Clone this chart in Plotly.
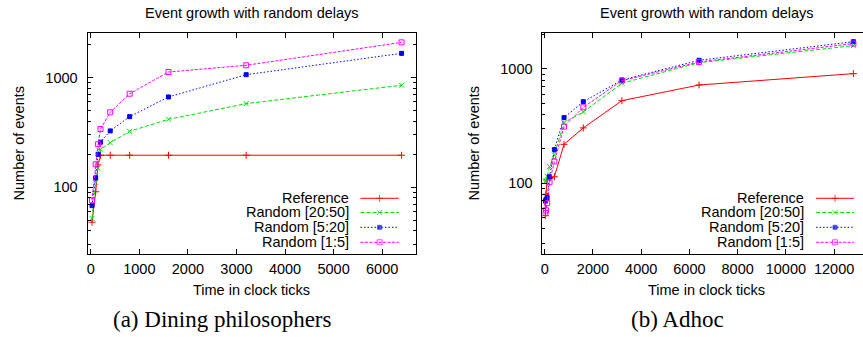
import plotly.graph_objects as go

W, H = 863, 337

# ---------------- data ----------------
series_names = ["Reference", "Random [20:50]", "Random [5:20]", "Random [1:5]"]

dining_time = [25, 100, 150, 200, 400, 800, 1600, 3200, 6400]
dining_reference = [48, 91, 160, 196, 196, 196, 196, 196, 196]
dining_r20_50 = [52, 111, 150, 222, 255, 324, 417, 580, 853]
dining_r5_20 = [68, 122, 200, 258, 327, 441, 667, 1065, 1667]
dining_r1_5 = [76, 162, 247, 340, 483, 714, 1127, 1298, 2100]

adhoc_time = [25, 50, 100, 200, 400, 800, 1600, 3200, 6400, 12800]
adhoc_reference = [52, 80, 107, 110, 114, 219, 305, 528, 724, 910]
adhoc_r20_50 = [103, 105, 115, 140, 177, 339, 421, 750, 1135, 1599]
adhoc_r5_20 = [70, 72, 75, 114, 197, 375, 517, 801, 1191, 1733]
adhoc_r1_5 = [55, 58, 67, 102, 155, 313, 462, 791, 1151, 1667]

left_xticks = [0, 1000, 2000, 3000, 4000, 5000, 6000]
right_xticks = [0, 2000, 4000, 6000, 8000, 10000, 12000]
y_ticks = [100, 1000]
y_minor = [30, 40, 50, 60, 70, 80, 90, 200, 300, 400, 500, 600, 700, 800, 900, 2000]

# ---------------- styles ----------------
SANS = "Liberation Sans, Arial, Helvetica, sans-serif"
SERIF = "Liberation Serif, Times New Roman, serif"
FS = 14.5
styles = [
    dict(color="#ff0000", dash="solid", symbol="cross-thin", msize=5),
    dict(color="#00e000", dash="4px,2px", symbol="x-thin", msize=5),
    dict(color="#0000ff", dash="1.5px,2px", symbol="square", msize=4),
    dict(color="#ff00ff", dash="3px,1.5px", symbol="square-open", msize=5),
]

def px_x(p):
    return p / W

def px_y(p):
    return 1 - p / H

fig = go.Figure()

left_series = [dining_reference, dining_r20_50, dining_r5_20, dining_r1_5]
right_series = [adhoc_reference, adhoc_r20_50, adhoc_r5_20, adhoc_r1_5]

for name, ys, st in zip(series_names, left_series, styles):
    fig.add_trace(go.Scatter(
        x=dining_time, y=ys, name=name, mode="lines+markers",
        line=dict(color=st["color"], width=1, dash=st["dash"]),
        marker=dict(symbol=st["symbol"], size=st["msize"], color=st["color"],
                    line=dict(color=st["color"], width=1)),
        xaxis="x", yaxis="y", showlegend=False, cliponaxis=True))

for name, ys, st in zip(series_names, right_series, styles):
    fig.add_trace(go.Scatter(
        x=adhoc_time, y=ys, name=name, mode="lines+markers",
        line=dict(color=st["color"], width=1, dash=st["dash"]),
        marker=dict(symbol=st["symbol"], size=st["msize"], color=st["color"],
                    line=dict(color=st["color"], width=1)),
        xaxis="x2", yaxis="y2", showlegend=False, cliponaxis=True))

# -------- gnuplot-style legends (text right, sample on the right) --------
legend_rows = [198.3, 212.5, 227.3, 242.3]
legend_specs = [
    dict(text_right=349.5, line_x0=359.3, line_x1=397.7),
    dict(text_right=806.0, line_x0=816.0, line_x1=854.0),
]
annotations = []
for spec in legend_specs:
    for name, st, ry in zip(series_names, styles, legend_rows):
        mid = (spec["line_x0"] + spec["line_x1"]) / 2
        fig.add_trace(go.Scatter(
            x=[spec["line_x0"], mid, spec["line_x1"]], y=[ry, ry, ry],
            mode="lines+markers",
            line=dict(color=st["color"], width=1, dash=st["dash"]),
            marker=dict(symbol=st["symbol"], size=[0, st["msize"], 0], color=st["color"],
                        line=dict(color=st["color"], width=1)),
            xaxis="x3", yaxis="y3", showlegend=False, hoverinfo="skip"))
        annotations.append(dict(
            text=name, x=px_x(spec["text_right"]), y=px_y(ry), xref="paper", yref="paper",
            xanchor="right", yanchor="middle", showarrow=False,
            font=dict(family=SANS, size=FS, color="black")))

# -------- titles / axis titles / captions --------
texts = [
    ("Event growth with random delays", 250.5, 13.5, 0, SANS, FS),
    ("Event growth with random delays", 706.5, 13.5, 0, SANS, FS),
    ("Time in clock ticks", 250.5, 290.0, 0, SANS, FS),
    ("Time in clock ticks", 706.5, 290.0, 0, SANS, FS),
    ("Number of events", 17.0, 143.5, -90, SANS, FS),
    ("Number of events", 473.0, 143.5, -90, SANS, FS),
    ("(a) Dining philosophers", 221.0, 319.0, 0, SERIF, 23),
    ("(b) Adhoc", 677.0, 319.0, 0, SERIF, 23),
]
for t, x, y, ang, fam, fs in texts:
    annotations.append(dict(
        text=t, x=px_x(x), y=px_y(y), xref="paper", yref="paper",
        xanchor="center", yanchor="middle", showarrow=False, textangle=ang,
        font=dict(family=fam, size=fs, color="black")))

ydom = [px_y(254.0), px_y(33.3)]
common_axis = dict(
    ticks="inside", tickcolor="black", ticklen=5, tickwidth=1,
    showline=True, linecolor="black", linewidth=1,
    showgrid=False, zeroline=False,
    tickfont=dict(family=SANS, size=FS, color="black"),
)

fig.update_layout(
    width=W, height=H,
    margin=dict(l=0, r=0, t=0, b=0),
    paper_bgcolor="white", plot_bgcolor="rgba(0,0,0,0)",
    showlegend=False,
    annotations=annotations,
    xaxis=dict(domain=[px_x(85.7), px_x(415.0)], range=[-68, 6698],
               tickmode="array", tickvals=left_xticks, ticktext=[str(v) for v in left_xticks],
               mirror="ticks", anchor="y", ticklabelstandoff=2, **common_axis),
    yaxis=dict(domain=ydom, type="log", range=[1.391, 3.405],
               tickmode="array", tickvals=y_ticks, ticktext=[str(v) for v in y_ticks],
               mirror="ticks", anchor="x", ticklabelstandoff=6,
               minor=dict(ticks="inside", ticklen=3, tickcolor="black",
                          tickmode="array", tickvals=y_minor),
               **common_axis),
    xaxis2=dict(domain=[px_x(541.7), 1.0], range=[-95, 13198],
                tickmode="array", tickvals=right_xticks, ticktext=[str(v) for v in right_xticks],
                mirror="ticks", anchor="y2", ticklabelstandoff=2, **common_axis),
    yaxis2=dict(domain=ydom, type="log", range=[1.381, 3.312],
                tickmode="array", tickvals=y_ticks, ticktext=[str(v) for v in y_ticks],
                mirror=False, anchor="x2", ticklabelstandoff=6,
                minor=dict(ticks="inside", ticklen=3, tickcolor="black",
                           tickmode="array", tickvals=y_minor),
                **common_axis),
    xaxis3=dict(domain=[0, 1], range=[0, W], visible=False, fixedrange=True, anchor="y3"),
    yaxis3=dict(domain=[0, 1], range=[H, 0], visible=False, fixedrange=True, anchor="x3"),
)

fig.write_html(
    "out.html",
    config={"displayModeBar": False},
    post_script="document.body.style.margin='0px';document.body.style.overflow='hidden';",
)
